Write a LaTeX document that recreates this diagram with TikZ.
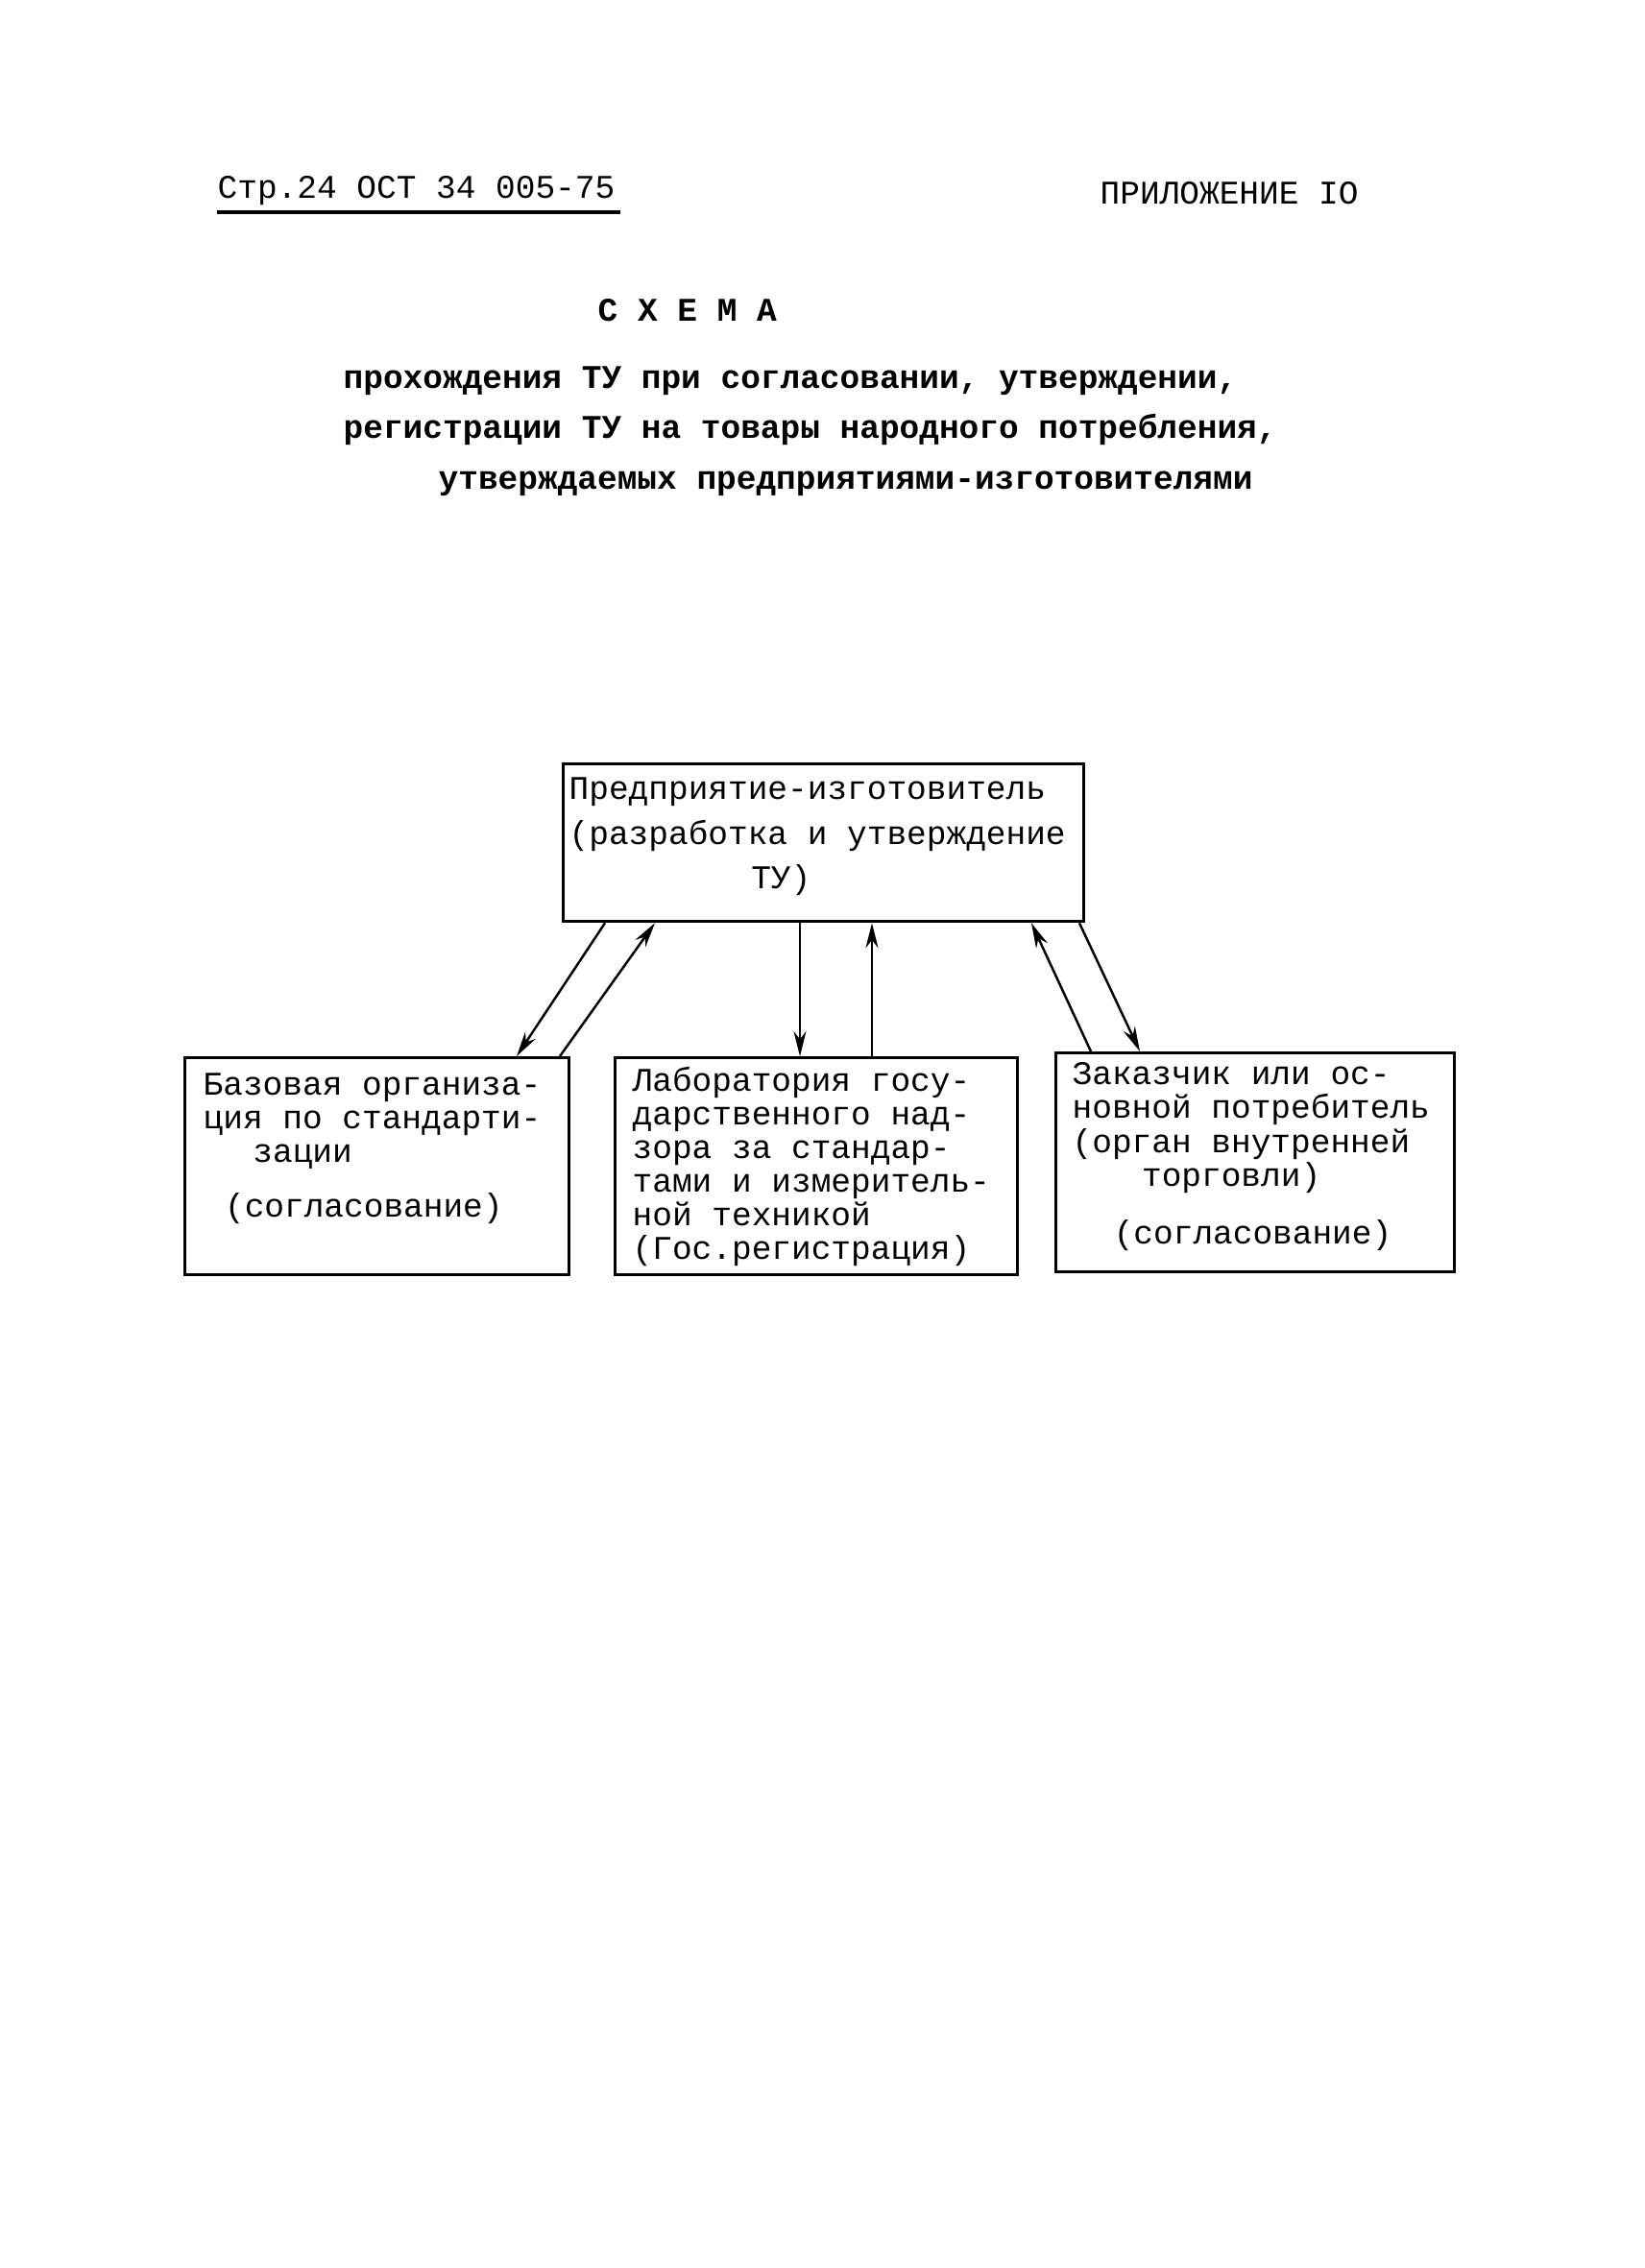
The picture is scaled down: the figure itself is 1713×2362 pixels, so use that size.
\documentclass[tikz,border=0pt]{standalone}
\usepackage{fontspec}
\setmainfont{Liberation Mono}
\usepackage{tikz}
\usetikzlibrary{arrows.meta,calc}

\begin{document}
\begin{tikzpicture}[x=0.01cm, y=-0.01cm,
  box/.style={draw, line width=0.9pt, inner sep=0pt, anchor=north west},
  txt/.style={anchor=north west, inner sep=0pt, align=left, font=\fontsize{9.8}{10}\selectfont},
  head/.style={anchor=base west, inner sep=0pt, font=\fontsize{9.8}{12}\selectfont},
  ttl/.style={anchor=base west, inner sep=0pt, font=\bfseries\fontsize{9.8}{12}\selectfont},
  flow/.style={-{Stealth[length=2.6mm, width=1.3mm]}, line width=0.7pt}]
\useasboundingbox (0,0) rectangle (1713,2362);
\node[head] (page) at (226,206) {Стр.24 ОСТ 34 005-75};
\draw[line width=1pt] ($(page.base west)+(0,15)$) -- ($(page.base east)+(5,15)$);
\node[head] (appx) at (1145,212) {ПРИЛОЖЕНИЕ IO};
\node[ttl] (scheme) at (622,334) {С Х Е М А};
\node[ttl] (ttla) at (357,404) {прохождения ТУ при согласовании, утверждении,};
\node[ttl] (ttlb) at (357,456) {регистрации ТУ на товары народного потребления,};
\node[ttl] (ttlc) at (456,509) {утверждаемых предприятиями-изготовителями};
\node[box, minimum width=5.42cm, minimum height=1.64cm] (maker) at (585,794) {};
\node[box, minimum width=4.00cm, minimum height=2.26cm] (base) at (191,1100) {};
\node[box, minimum width=4.19cm, minimum height=2.26cm] (lab) at (639,1100) {};
\node[box, minimum width=4.15cm, minimum height=2.28cm] (cust) at (1098,1095) {};
\node[txt, font=\fontsize{9.8}{13.3}\selectfont] (makertxt) at ($(maker.north west)+(7,15)$)
  {Предприятие-изготовитель\\(разработка и утверждение\\\hspace*{5.5em}ТУ)};
\node[txt] (basetxt) at ($(base.north west)+(20,17)$)
  {Базовая организа-\\ция по стандарти-\\\hspace*{1.5em}зации\\[6pt]\hspace*{0.65em}(согласование)};
\node[txt] (labtxt) at ($(lab.north west)+(19,10)$)
  {Лаборатория госу-\\дарственного над-\\зора за стандар-\\тами и измеритель-\\ной техникой\\(Гос.регистрация)};
\node[txt] (custtxt) at ($(cust.north west)+(18,11)$)
  {Заказчик или ос-\\новной потребитель\\(орган внутренней\\\hspace*{2.1em}торговли)\\[7pt]\hspace*{1.25em}(согласование)};
\draw[flow] ($(maker.south west)+(45,0)$) -- ($(base.north west)+(347,0)$);
\draw[flow] ($(base.north west)+(392,0)$) -- ($(maker.south west)+(97,0)$);
\draw[flow] ($(maker.south west)+(248,0)$) -- ($(lab.north west)+(194,0)$);
\draw[flow] ($(lab.north west)+(269,0)$) -- ($(maker.south west)+(323,0)$);
\draw[flow] ($(cust.north west)+(38,0)$) -- ($(maker.south west)+(489,0)$);
\draw[flow] ($(maker.south west)+(539,0)$) -- ($(cust.north west)+(89,0)$);
\end{tikzpicture}
\end{document}
